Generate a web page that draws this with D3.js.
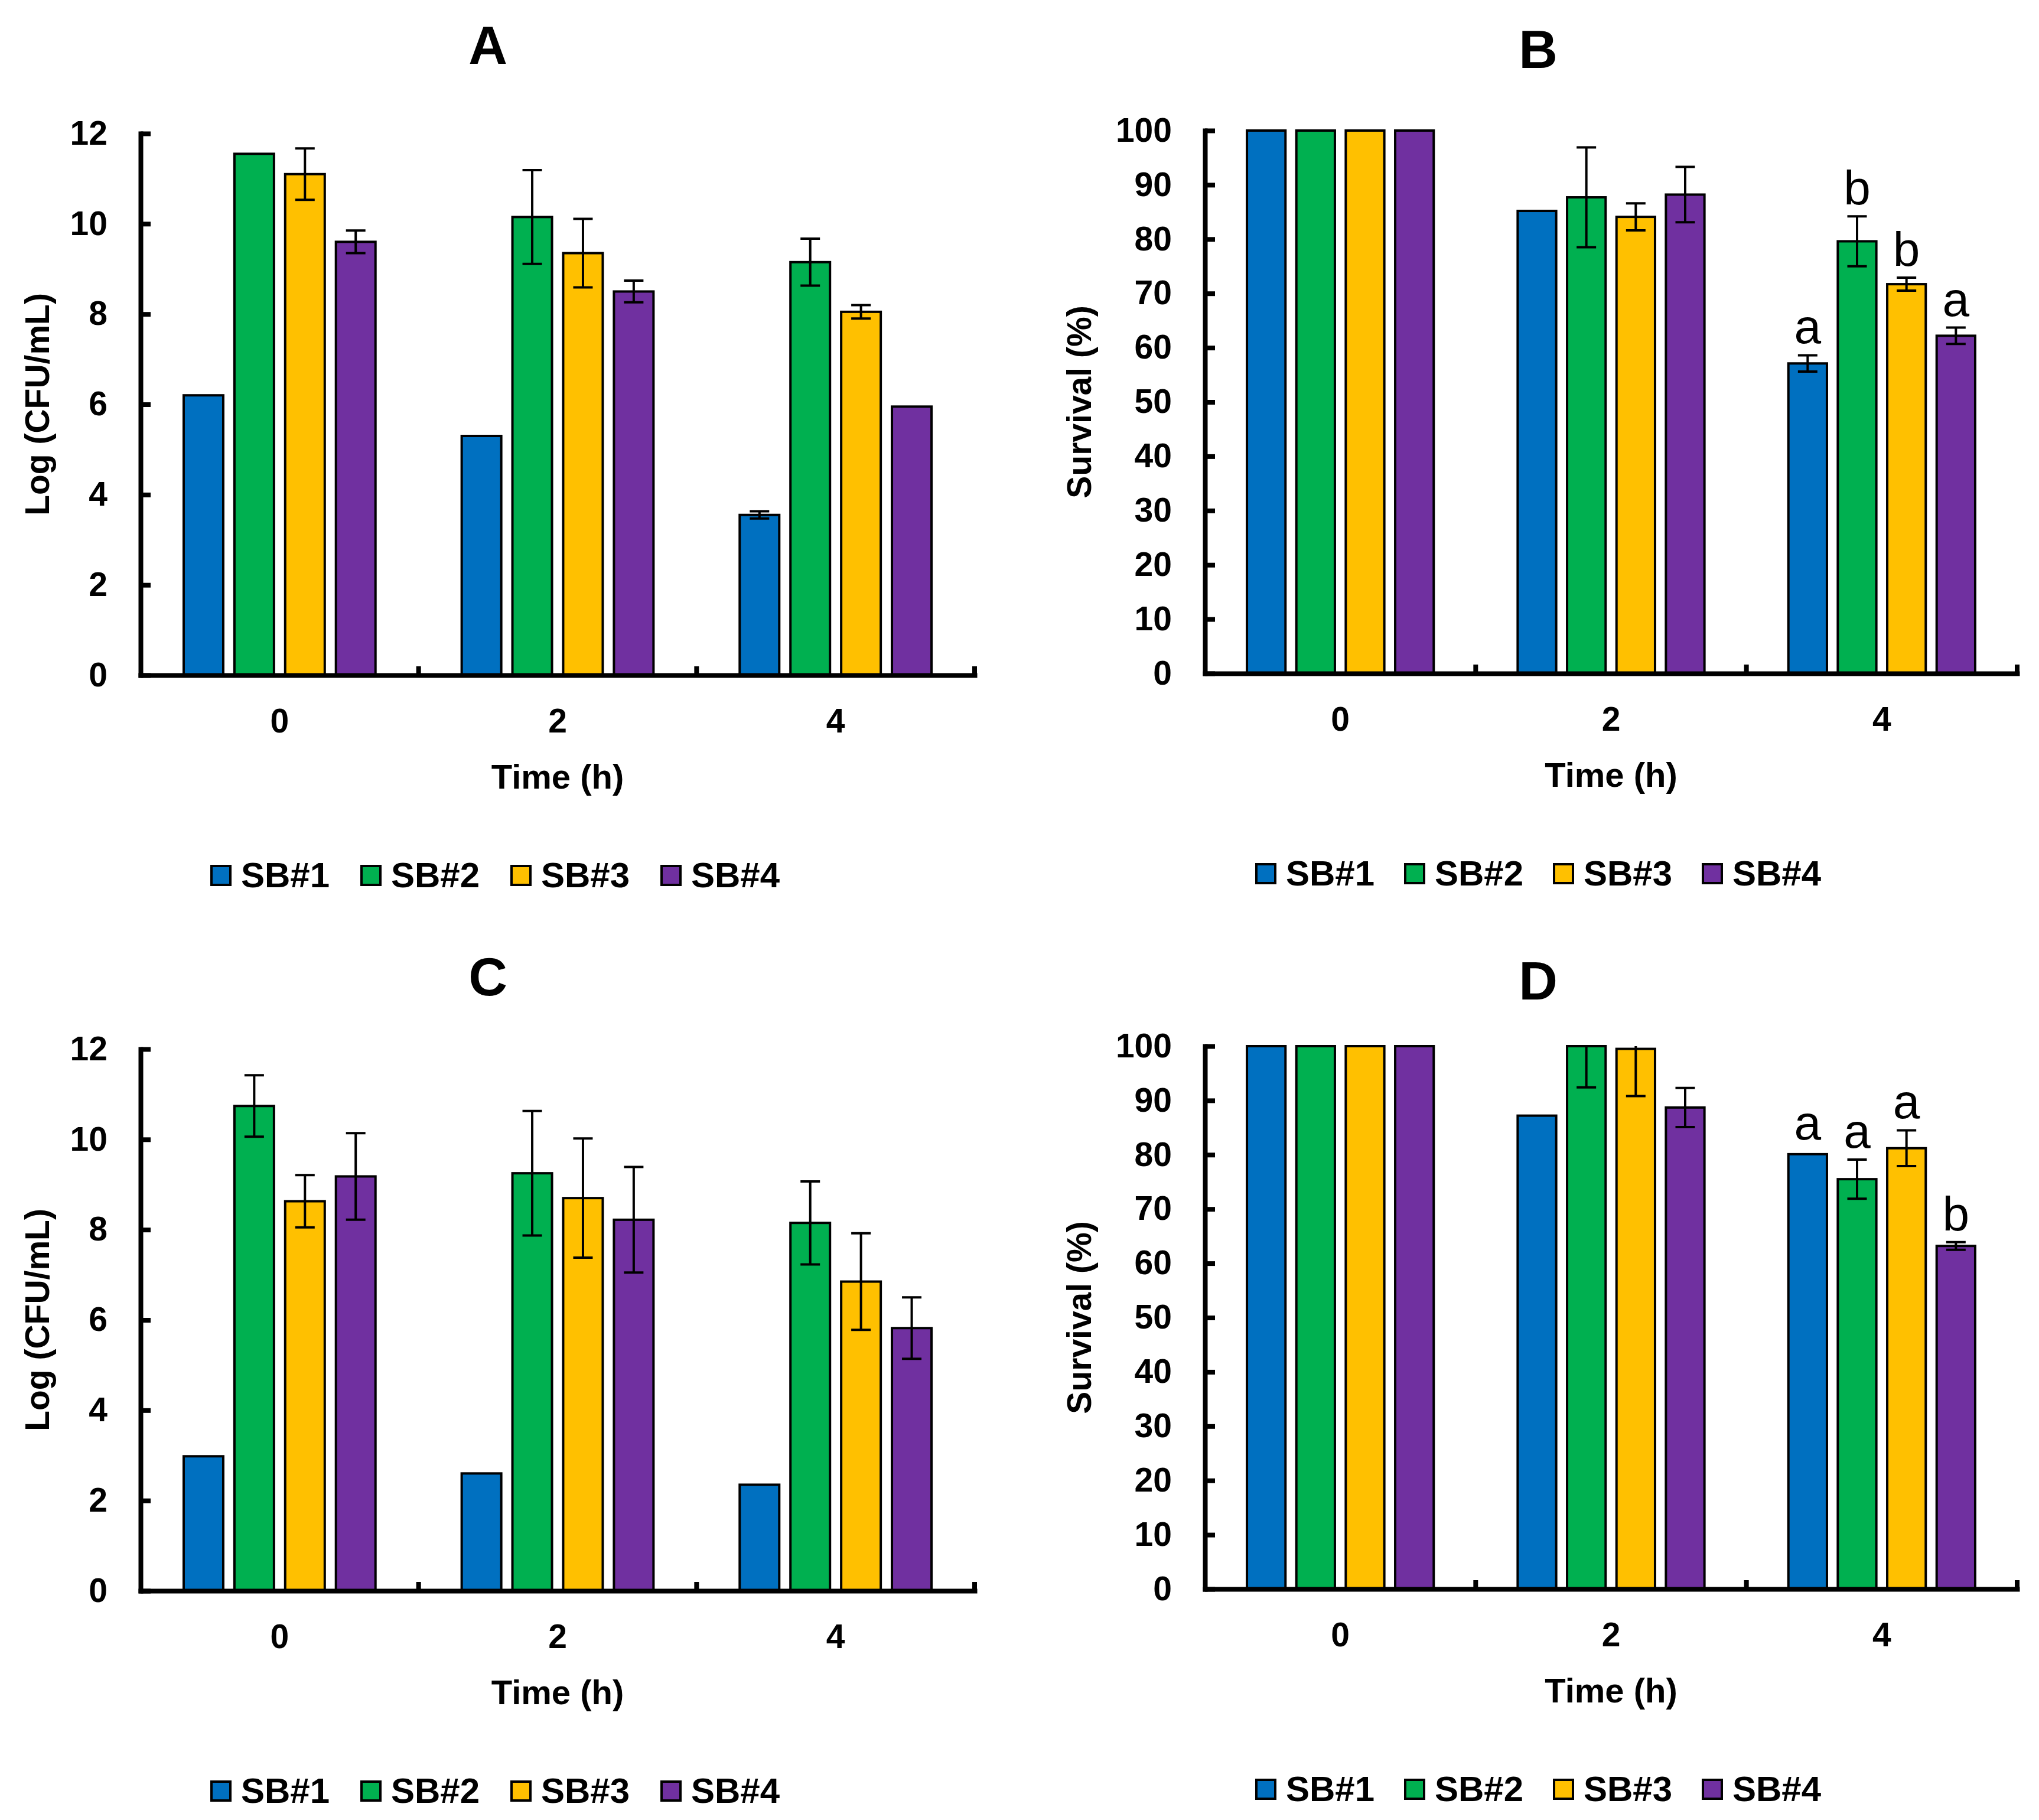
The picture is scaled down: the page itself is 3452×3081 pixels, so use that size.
<!DOCTYPE html>
<html>
<head>
<meta charset="utf-8">
<script src="https://cdn.jsdelivr.net/npm/d3@7"></script>
<style>
  body { margin: 0; background: #fff; }
  text { font-family: "Liberation Sans", Arial, sans-serif; }
</style>
</head>
<body>
<div id="chart"></div>
<script>
// categories and series
const times = ["0", "2", "4"];
const strains = ["SB#1", "SB#2", "SB#3", "SB#4"];
const strainColors = ["#0070C0", "#00B050", "#FFC000", "#7030A0"];

// tick labels
const logTicks = [0, 2, 4, 6, 8, 10, 12];
const survivalTicks = [0, 10, 20, 30, 40, 50, 60, 70, 80, 90, 100];

// panel A : log CFU/mL, one row per strain, one value per time
const aMean = [
  [6.2, 5.3, 3.55],
  [11.55, 10.15, 9.15],
  [11.1, 9.35, 8.05],
  [9.6, 8.5, 5.95]
];
const aErr = [
  [0, 0, 0.08],
  [0, 1.04, 0.52],
  [0.57, 0.76, 0.15],
  [0.25, 0.24, 0]
];

// panel B : survival (%)
const bMean = [
  [100, 85.2, 57.1],
  [100, 87.7, 79.6],
  [100, 84.1, 71.7],
  [100, 88.2, 62.2]
];
const bErr = [
  [0, 0, 1.5],
  [0, 9.2, 4.6],
  [0, 2.5, 1.2],
  [0, 5.1, 1.5]
];
const bLetters = ["a", "b", "b", "a"];

// panel C : log CFU/mL
const cMean = [
  [2.98, 2.6, 2.35],
  [10.74, 9.25, 8.15],
  [8.63, 8.7, 6.85],
  [9.18, 8.22, 5.82]
];
const cErr = [
  [0, 0, 0],
  [0.68, 1.38, 0.92],
  [0.58, 1.32, 1.07],
  [0.96, 1.17, 0.68]
];

// panel D : survival (%)
const dMean = [
  [100, 87.2, 80.1],
  [100, 100, 75.5],
  [100, 99.5, 81.2],
  [100, 88.7, 63.2]
];
const dErr = [
  [0, 0, 0],
  [0, 7.6, 3.6],
  [0, 8.7, 3.3],
  [0, 3.6, 0.7]
];
const dLetters = ["a", "a", "a", "b"];

const svg = d3.select("#chart")
  .append("svg")
  .attr("width", 3452)
  .attr("height", 3081)
  .style("display", "block");

svg.append("rect").attr("width", 3452).attr("height", 3081).attr("fill", "#fff");

function drawPanel(p) {
  const g = svg.append("g");

  const x = d3.scaleBand().domain(times).range([p.left, p.right]);
  const groupW = x.bandwidth() * 0.69;
  const xs = d3.scaleBand().domain(strains).range([-groupW / 2, groupW / 2]).paddingInner(0.22);
  const y = d3.scaleLinear().domain([0, p.max]).range([p.bottom, p.top]).clamp(true);

  const rows = [];
  strains.forEach((s, i) => {
    times.forEach((t, j) => {
      rows.push({ s, i, t, v: p.mean[i][j], e: p.err[i][j],
        letter: p.letters && j === times.length - 1 ? p.letters[i] : null });
    });
  });
  const cx = d => x(d.t) + x.bandwidth() / 2 + xs(d.s) + xs.bandwidth() / 2;

  // bars
  g.selectAll(".bar")
    .data(rows)
    .join("rect")
    .attr("class", "bar")
    .attr("x", d => x(d.t) + x.bandwidth() / 2 + xs(d.s))
    .attr("width", xs.bandwidth())
    .attr("y", d => y(d.v))
    .attr("height", d => y(0) - y(d.v))
    .attr("fill", d => strainColors[d.i])
    .attr("stroke", "#000")
    .attr("stroke-width", 4);

  // error bars
  const withErr = rows.filter(d => d.e > 0);
  const capW = 33;
  g.selectAll(".err")
    .data(withErr)
    .join("line")
    .attr("x1", cx).attr("x2", cx)
    .attr("y1", d => y(d.v - d.e))
    .attr("y2", d => y(d.v + d.e))
    .attr("stroke", "#000").attr("stroke-width", 4);
  g.selectAll(".capLow")
    .data(withErr)
    .join("line")
    .attr("x1", d => cx(d) - capW / 2).attr("x2", d => cx(d) + capW / 2)
    .attr("y1", d => y(d.v - d.e)).attr("y2", d => y(d.v - d.e))
    .attr("stroke", "#000").attr("stroke-width", 4);
  g.selectAll(".capHigh")
    .data(withErr.filter(d => d.v + d.e <= p.max))
    .join("line")
    .attr("x1", d => cx(d) - capW / 2).attr("x2", d => cx(d) + capW / 2)
    .attr("y1", d => y(d.v + d.e)).attr("y2", d => y(d.v + d.e))
    .attr("stroke", "#000").attr("stroke-width", 4);

  // significance letters
  g.selectAll(".letter")
    .data(rows.filter(d => d.letter))
    .join("text")
    .attr("x", cx)
    .attr("y", d => d.e > 0 ? y(d.v + d.e) - 20 : y(d.v) - 25)
    .attr("text-anchor", "middle")
    .attr("font-size", 82)
    .text(d => d.letter);

  // y axis, ticks pointing inward
  const yAxis = g.append("g")
    .attr("transform", `translate(${p.left},0)`)
    .call(d3.axisLeft(y).tickValues(p.ticks).tickSize(-17).tickSizeOuter(0).tickPadding(56));
  yAxis.select(".domain").attr("stroke-width", 8).attr("stroke-linecap", "square");
  yAxis.selectAll(".tick line").attr("stroke-width", 8);
  yAxis.selectAll(".tick text")
    .attr("font-family", "'Liberation Sans', Arial, sans-serif")
    .attr("font-size", 57).attr("font-weight", "bold").attr("fill", "#000");

  // x axis
  const xAxis = g.append("g")
    .attr("transform", `translate(0,${p.bottom})`)
    .call(d3.axisBottom(x).tickSize(0).tickSizeOuter(0).tickPadding(57));
  xAxis.select(".domain").attr("stroke-width", 8).attr("stroke-linecap", "square");
  xAxis.selectAll(".tick text")
    .attr("font-family", "'Liberation Sans', Arial, sans-serif")
    .attr("font-size", 57).attr("font-weight", "bold").attr("fill", "#000");

  // category boundary ticks
  g.selectAll(".bound")
    .data(times)
    .join("line")
    .attr("x1", t => x(t) + x.bandwidth()).attr("x2", t => x(t) + x.bandwidth())
    .attr("y1", p.bottom).attr("y2", p.bottom - 15)
    .attr("stroke", "#000").attr("stroke-width", 8);

  // titles
  g.append("text")
    .attr("x", p.titleX).attr("y", p.titleY)
    .attr("text-anchor", "middle")
    .attr("font-size", 91).attr("font-weight", "bold")
    .text(p.title);

  g.append("text")
    .attr("x", (p.left + p.right) / 2).attr("y", p.bottom + 192)
    .attr("text-anchor", "middle")
    .attr("font-size", 58).attr("font-weight", "bold")
    .text("Time (h)");

  g.append("text")
    .attr("transform", `translate(${p.ylabelX},${(p.top + p.bottom) / 2}) rotate(-90)`)
    .attr("text-anchor", "middle")
    .attr("font-size", 57).attr("font-weight", "bold")
    .text(p.ylabel);

  // legend
  const leg = g.selectAll(".leg")
    .data(strains)
    .join("g")
    .attr("transform", (s, i) => `translate(${p.legendX + i * p.legendStep},${p.bottom + 321})`);
  leg.append("rect")
    .attr("x", 2).attr("y", 2).attr("width", 32).attr("height", 32)
    .attr("fill", (s, i) => strainColors[i])
    .attr("stroke", "#000").attr("stroke-width", 4);
  leg.append("text")
    .attr("x", 52).attr("y", 38)
    .attr("font-size", 60).attr("font-weight", "bold")
    .text(s => s);
}

drawPanel({ title: "A", titleX: 826, titleY: 108, ylabel: "Log (CFU/mL)", ylabelX: 83,
  left: 238, right: 1650, top: 226, bottom: 1143, max: 12, ticks: logTicks,
  mean: aMean, err: aErr, letters: null, legendX: 356, legendStep: 254 });

drawPanel({ title: "B", titleX: 2604, titleY: 115, ylabel: "Survival (%)", ylabelX: 1847,
  left: 2040, right: 3415, top: 221, bottom: 1140, max: 100, ticks: survivalTicks,
  mean: bMean, err: bErr, letters: bLetters, legendX: 2125, legendStep: 252 });

drawPanel({ title: "C", titleX: 826, titleY: 1685, ylabel: "Log (CFU/mL)", ylabelX: 83,
  left: 238, right: 1650, top: 1776, bottom: 2693, max: 12, ticks: logTicks,
  mean: cMean, err: cErr, letters: null, legendX: 356, legendStep: 254 });

drawPanel({ title: "D", titleX: 2604, titleY: 1692, ylabel: "Survival (%)", ylabelX: 1847,
  left: 2040, right: 3415, top: 1771, bottom: 2690, max: 100, ticks: survivalTicks,
  mean: dMean, err: dErr, letters: dLetters, legendX: 2125, legendStep: 252 });
</script>
</body>
</html>
